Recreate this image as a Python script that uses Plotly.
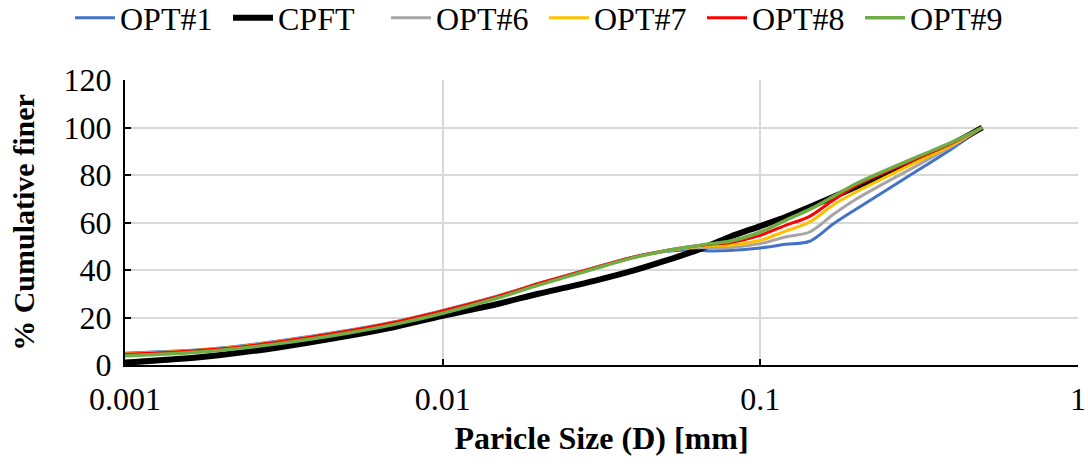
import plotly.graph_objects as go

D = [0.001, 0.0015, 0.002, 0.003, 0.005, 0.007, 0.01, 0.015, 0.02, 0.025, 0.03,
     0.04, 0.05, 0.06, 0.07, 0.08, 0.1, 0.12, 0.143, 0.17, 0.2, 0.3, 0.4, 0.5]

opt1 = [5.0, 6.0, 7.2, 10.0, 14.5, 18.1, 23.0, 29.2, 34.3, 38.0, 41.0,
        45.5, 47.8, 48.4, 48.0, 48.2, 49.3, 50.8, 52.1, 59.5, 65.6, 80.4, 91.0, 100]
cpft = [1.0, 2.6, 4.2, 7.3, 12.2, 15.9, 20.7, 25.8, 30.0, 32.9, 35.4,
        39.8, 43.8, 47.3, 50.7, 53.9, 58.5, 62.3, 66.5, 70.8, 75.0, 85.5, 93.0, 100]
opt6 = [4.8, 5.8, 7.0, 9.8, 14.3, 17.9, 22.8, 29.0, 34.2, 37.9, 40.9,
        45.4, 48.0, 49.3, 49.3, 49.4, 51.1, 53.9, 56.0, 63.5, 69.8, 82.8, 92.0, 100]
opt7 = [4.6, 5.7, 6.9, 9.7, 14.2, 17.9, 22.8, 29.0, 34.2, 37.9, 40.9,
        45.4, 48.0, 49.5, 50.3, 50.4, 52.5, 56.4, 60.2, 67.5, 72.8, 84.5, 92.6, 100]
opt8 = [4.5, 5.6, 6.8, 9.6, 14.2, 17.9, 22.8, 29.0, 34.2, 37.9, 40.9,
        45.5, 48.1, 49.8, 50.8, 51.5, 54.6, 58.8, 62.6, 69.5, 75.5, 86.0, 93.3, 100]
opt9 = [3.9, 5.0, 6.2, 8.9, 13.4, 17.0, 21.8, 28.3, 33.6, 37.4, 40.5,
        45.2, 48.0, 49.8, 51.1, 52.1, 56.0, 60.9, 65.5, 71.0, 76.3, 86.7, 93.7, 100]

series = [
    ("OPT#1", opt1, "#4472C4", 3),
    ("CPFT", cpft, "#000000", 6),
    ("OPT#6", opt6, "#A5A5A5", 3),
    ("OPT#7", opt7, "#FFC000", 3),
    ("OPT#8", opt8, "#FF0000", 3),
    ("OPT#9", opt9, "#70AD47", 3.5),
]

x_tickvals = [0.001, 0.01, 0.1, 1]
x_ticktext = ["0.001", "0.01", "0.1", "1"]
y_tickvals = [0, 20, 40, 60, 80, 100, 120]

FONT = "Liberation Serif"

fig = go.Figure()
for name, vals, color, w in series:
    fig.add_trace(go.Scatter(
        x=D, y=vals, mode="lines", name=name,
        line=dict(color=color, width=w, shape="spline", smoothing=0.9),
    ))

fig.update_layout(
    width=1088, height=466,
    margin=dict(l=125, r=10, t=80, b=101, autoexpand=False),
    paper_bgcolor="white", plot_bgcolor="white",
    font=dict(family=FONT, size=32, color="black"),
    showlegend=True,
    legend=dict(
        orientation="h", x=0.5, xanchor="center", xref="container",
        y=1.2175, yanchor="middle", yref="paper",
        font=dict(family=FONT, size=32, color="black"),
        entrywidth=103, itemwidth=40, tracegroupgap=0,
        bgcolor="rgba(0,0,0,0)",
    ),
    xaxis=dict(
        type="log", range=[-3, 0],
        tickvals=x_tickvals, ticktext=x_ticktext,
        showgrid=True, gridcolor="#D9D9D9", gridwidth=2,
        showline=True, linecolor="black", linewidth=2,
        ticks="inside", ticklen=6, tickwidth=2, tickcolor="black",
        tickfont=dict(family=FONT, size=32),
        ticklabelstandoff=5, automargin=False,
        title=dict(text="<b>Paricle Size (D) [mm]</b>", font=dict(family=FONT, size=32), standoff=10),
        zeroline=False,
    ),
    yaxis=dict(
        range=[0, 120], tickvals=y_tickvals,
        showgrid=True, gridcolor="#D9D9D9", gridwidth=2,
        showline=True, linecolor="black", linewidth=2,
        ticks="inside", ticklen=6, tickwidth=2, tickcolor="black",
        tickfont=dict(family=FONT, size=32),
        ticklabelstandoff=5, automargin=False,
        title=dict(text="<b>% Cumulative finer</b>", font=dict(family=FONT, size=30), standoff=20),
        zeroline=False,
    ),
)

fig.write_html("out.html")
